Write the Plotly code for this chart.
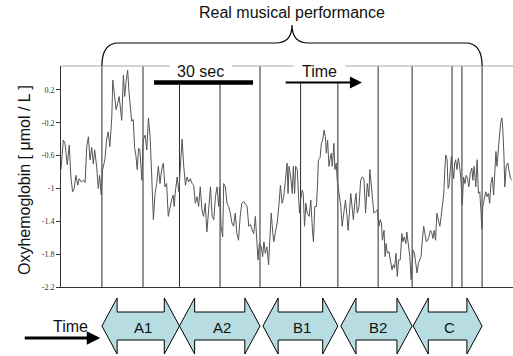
import plotly.graph_objects as go

# ---------------- data ----------------
time_s = [
    0.0, 0.7, 1.2, 1.9, 2.5, 3.0, 3.5, 4.0, 4.5, 5.1, 5.5, 6.1, 6.8, 7.3, 7.8, 8.3, 8.8, 9.3, 9.8, 10.2,
    10.8, 11.3, 11.7, 12.2, 12.6, 13.3, 13.8, 14.3, 14.8, 15.4, 15.7, 16.2, 16.7, 17.2, 17.6, 17.9, 18.4,
    18.9, 19.3, 19.7, 20.2, 20.6, 21.0, 21.4, 21.9, 22.3, 22.7, 23.1, 23.5, 23.9, 24.5, 24.9, 25.5, 26.0,
    26.5, 27.0, 27.5, 28.0, 28.5, 29.0, 29.5, 30.0, 30.5, 31.0, 31.5, 32.0, 32.5, 33.0, 33.5, 34.0, 34.3,
    34.6, 35.2, 35.7, 36.2, 36.7, 37.2, 37.7, 38.2, 38.7, 39.2, 39.7, 40.2, 40.7, 41.2, 41.7, 42.2, 42.7,
    43.2, 43.7, 44.2, 44.8, 45.3, 45.8, 46.3, 46.8, 47.3, 47.8, 48.1, 48.5, 49.0, 49.3, 49.8, 50.3, 50.8,
    51.3, 51.8, 52.3, 52.8, 53.3, 53.8, 54.3, 54.8, 55.4, 55.8, 56.4, 56.9, 57.4, 57.9, 58.4, 58.9, 59.4,
    59.7, 60.1, 60.7, 61.1, 61.5, 61.9, 62.4, 62.9, 63.4, 63.7, 64.2, 64.5, 64.9, 65.5, 66.0, 66.5, 67.0,
    67.5, 68.0, 68.5,
    68.8, 69.1, 69.6, 70.1, 70.4, 70.8, 71.1, 71.6, 72.0, 72.3, 72.6, 73.1, 73.4, 73.8, 74.2, 74.6, 75.2,
    75.7, 76.2, 76.5, 76.9, 77.4, 77.7, 78.0, 78.5, 78.9, 79.3, 79.7, 80.1, 80.4, 80.8, 81.2, 81.5, 81.9,
    82.2, 82.7, 83.0, 83.4, 83.7, 84.0, 84.5, 84.8, 85.2, 85.8, 86.2, 86.6, 87.0, 87.4, 87.8, 88.3, 88.6,
    89.0, 89.4, 89.8, 90.3, 90.8, 91.3, 91.8, 92.3, 92.8, 93.3, 93.6, 94.0, 94.5, 94.8, 95.4, 95.8, 96.4,
    96.7, 97.1, 97.4, 97.9, 98.2, 98.5, 98.9, 99.4, 99.9, 100.3, 100.7, 101.1, 101.5, 101.9, 102.3,
    102.8, 103.3, 103.6, 104.0, 104.5, 104.8, 105.2, 105.7, 106.1, 106.4, 106.7, 107.1, 107.5, 107.9,
    108.3, 108.7, 109.1, 109.5, 109.9, 110.3, 110.7, 111.1, 111.5, 111.9, 112.3, 112.7, 113.1, 113.5,
    113.9, 114.3, 114.8, 115.2, 115.5, 116.0, 116.3, 116.6, 117.0, 117.3, 117.6, 118.0, 118.3, 118.6,
    119.0, 119.3, 119.6, 120.0, 120.4, 120.8, 121.2, 121.6, 122.0, 122.4, 122.8, 123.2, 123.6, 124.0,
    124.5, 124.8, 125.2, 125.7, 126.1, 126.5, 126.9, 127.3, 127.5, 127.8, 128.3, 128.7, 129.1, 129.5,
    129.9, 130.3, 130.7, 131.1, 131.5, 131.8, 132.1, 132.4, 132.8, 133.2, 133.6, 133.9, 134.2, 134.5,
    134.9, 135.4, 135.8, 136.2, 136.7,
]
oxyhemoglobin = [
    -0.77, -0.41, -0.45, -0.71, -0.47, -0.86, -1.04, -1.00, -0.84, -0.96, -0.88, -0.92, -0.90, -0.93, -0.49,
    -0.37, -0.65, -0.50, -0.70, -0.53, -0.73, -1.00, -0.84, -1.08, -0.77, -0.65, -0.41, -0.31, -0.49, -0.13,
    0.32, 0.16, -0.04, 0.04, 0.12, 0.02, -0.17, 0.38, 0.12, 0.30, 0.44, 0.18, -0.04, -0.18, -0.16, -0.50,
    -0.60, -0.77, -0.51, -0.53, -0.90, -0.41, -0.35, -0.53, -0.14, -0.37, -0.86, -1.38, -1.06, -0.94,
    -0.73, -0.94, -0.77, -0.69, -0.98, -0.94, -1.34, -1.22, -1.14, -1.08, -1.22,
    -1.06, -0.86, -1.04, -0.65, -0.40, -0.73, -0.96, -0.86, -0.92, -0.88, -0.94, -0.96, -1.18, -1.10,
    -1.22, -0.98, -1.26, -1.34, -1.18, -1.53, -1.18, -0.98, -1.34, -1.38, -1.10, -0.98, -1.22, -0.98,
    -1.46, -1.59, -0.94, -0.98, -1.18, -1.22, -1.30, -1.42, -1.46, -1.30, -1.55, -1.63, -1.34, -1.18,
    -1.16, -1.18, -1.22, -1.46, -1.44, -1.50, -1.55, -1.34, -1.63, -1.87, -1.67, -1.71, -1.83, -1.65,
    -1.79, -1.71, -1.93, -1.46, -1.30, -1.55, -1.65, -1.55, -1.42, -1.22, -0.96, -1.18, -1.10, -0.90,
    -0.69,
    -1.06, -0.73, -0.86, -1.06, -0.73, -1.06, -0.73, -0.77, -1.10, -1.30, -1.14, -1.02, -1.06, -1.46,
    -1.18, -1.30, -1.34, -1.14, -1.51, -1.65, -1.22, -1.22, -0.98, -0.65, -0.63, -0.45, -0.41, -0.29,
    -0.37, -0.57, -0.41, -0.73, -0.65, -0.57, -0.73, -0.45, -0.77, -0.69, -0.90, -0.98, -1.14, -1.22,
    -1.46, -1.26, -1.14, -1.30, -1.51, -1.30, -1.06, -1.26, -1.38, -1.18, -1.06, -1.30, -1.22, -0.90,
    -0.86, -0.88, -1.30, -0.94, -1.10, -0.77, -0.98, -1.26, -1.30, -1.28, -1.26, -1.46, -1.38, -1.42,
    -1.63, -1.51, -1.83, -1.67, -1.79, -1.77, -1.91, -1.99, -1.93, -1.97, -1.79, -2.07, -1.87,
    -1.87, -1.55, -1.65, -1.59, -1.67, -1.53, -1.69, -1.83, -2.11, -1.87, -1.75, -1.79, -1.91, -2.03,
    -1.91, -1.87, -1.83, -1.63, -1.46, -1.55, -1.65, -1.63, -1.59, -1.51, -1.53, -1.61, -1.51, -1.63,
    -1.30, -1.38, -1.46, -1.34, -1.22, -1.06, -0.77, -0.59, -0.65, -1.00, -0.96, -0.77, -0.61, -0.73,
    -0.88, -0.69, -0.65, -0.77, -0.63, -0.73, -0.90, -1.20, -0.86, -0.94, -0.84, -0.88, -0.98, -0.82,
    -0.75, -0.90, -0.73, -0.98, -0.65, -1.06, -1.04, -1.30, -1.49, -1.22, -1.10, -1.04, -1.10, -1.06,
    -1.18, -0.94, -0.86, -1.08, -0.77, -0.55, -0.73, -0.57, -0.33, -0.21, -0.14, -0.29, -0.57, -0.98,
    -0.73, -0.69, -0.79, -0.88, -0.90,
]

event_times = [12.4, 24.85, 35.9, 48.2, 60.3, 72.6, 83.9, 96.1, 106.4, 118.5, 121.5, 127.6]

section_labels = ["A1", "A2", "B1", "B2", "C"]
section_start = [12.4, 35.9, 61.2, 84.8, 106.7]
section_end = [35.9, 60.3, 83.9, 106.4, 127.6]

y_tick_values = [0.2, -0.2, -0.6, -1, -1.4, -1.8, -2.2]
y_tick_labels = ["0.2", "-0.2", "-0.6", "-1", "-1.4", "-1.8", "-2.2"]

scale_bar = [28.2, 58.2]          # 30 seconds
time_arrow = [67.6, 91.2]
x_range = [0, 136.97]
y_range = [-2.2, 0.492]

# ---------------- layout helpers ----------------
W, H = 513, 356
ML, MR, MT, MB = 61, 0, 66, 69
PH = H - MT - MB


def py(pix):
    """pixel row -> paper y"""
    return (H - MB - pix) / PH


def px_paper(pix):
    return (pix - ML) / (W - ML - MR)


fig = go.Figure()
fig.add_trace(go.Scatter(x=time_s, y=oxyhemoglobin, mode="lines",
                         line=dict(color="#555555", width=1), hoverinfo="skip"))

sec_center = (scale_bar[0] + scale_bar[1]) / 2 - 0.8
time_center = 78.3
gaps = [(sec_center - 9.4, sec_center + 9.4), (time_center - 7.9, time_center + 7.9)]

shapes = []
# event markers (stop under the top labels)
for t in event_times:
    covered = any(g0 <= t <= g1 for g0, g1 in gaps)
    shapes.append(dict(type="line", xref="x", yref="paper", x0=t, x1=t, y0=0,
                       y1=py(82) if covered else 1,
                       line=dict(color="#2b2b2b", width=1), layer="below"))
# top frame line, interrupted by the labels
edges = [x_range[0]] + [v for g in gaps for v in g] + [x_range[1]]
for a, b in zip(edges[0::2], edges[1::2]):
    shapes.append(dict(type="line", xref="x", yref="paper", x0=a, x1=b, y0=1, y1=1,
                       line=dict(color="#a8a8a8", width=1), layer="below"))
# 30 sec bar
shapes.append(dict(type="line", xref="x", yref="paper", x0=scale_bar[0], x1=scale_bar[1],
                   y0=py(82.5), y1=py(82.5), line=dict(color="black", width=4.5), layer="above"))

# brace over the performance
b0, b1 = event_times[0], event_times[-1]
bm = (b0 + b1) / 2
r = 5.0
yb0, yh, yp = 1.0, py(43), py(25)
brace = (f"M {b0},{yb0} Q {b0},{yh} {b0 + r},{yh} L {bm - r},{yh} Q {bm},{yh} {bm},{yp} "
         f"Q {bm},{yh} {bm + r},{yh} L {b1 - r},{yh} Q {b1},{yh} {b1},{yb0}")
shapes.append(dict(type="path", xref="x", yref="paper", path=brace,
                   line=dict(color="black", width=1.2), layer="above"))

# section double arrows
head = 4.6
ht, bt, ym, bb, hb = py(298), py(312), py(326), py(340), py(354)
for s, e in zip(section_start, section_end):
    p = (f"M {s},{ym} L {s + head},{ht} L {s + head},{bt} L {e - head},{bt} L {e - head},{ht} "
         f"L {e},{ym} L {e - head},{hb} L {e - head},{bb} L {s + head},{bb} L {s + head},{hb} Z")
    shapes.append(dict(type="path", xref="x", yref="paper", path=p, fillcolor="#b7dde2",
                       line=dict(color="black", width=1), layer="above"))

annotations = []
font_sans = "Liberation Sans, Arial, sans-serif"


def label(text, x, y, xref="x", size=16, **kw):
    annotations.append(dict(text=text, xref=xref, yref="paper", x=x, y=y, xanchor="center",
                            yanchor="middle", showarrow=False,
                            font=dict(family=font_sans, size=size, color="#111"), **kw))


label("Real musical performance", bm, py(13))
label("30 sec", sec_center, py(71))
label("Time", time_center, py(71))
annotations.append(dict(text="", xref="x", yref="paper", x=time_arrow[1], y=py(82.5),
                        axref="x", ax=time_arrow[0], ayref="pixel", ay=0, showarrow=True,
                        arrowhead=2, arrowsize=1.2, arrowwidth=2, arrowcolor="black"))
for lab, s, e in zip(section_labels, section_start, section_end):
    label(lab, (s + e) / 2 + 0.6, py(327), size=15)
label("Time", px_paper(70), py(326), xref="paper")
annotations.append(dict(text="", xref="x", yref="paper", x=section_start[0] - 0.5, y=py(338),
                        axref="pixel", ax=-77, ayref="pixel", ay=0, showarrow=True,
                        arrowhead=2, arrowsize=0.9, arrowwidth=3, arrowcolor="black"))
label("Oxyhemoglobin [ \u03bcmol / L ]", px_paper(24), py(180), xref="paper", textangle=-90)

fig.update_layout(
    width=W, height=H,
    margin=dict(l=ML, r=MR, t=MT, b=MB, pad=0),
    paper_bgcolor="white", plot_bgcolor="white",
    showlegend=False, hovermode=False,
    shapes=shapes, annotations=annotations,
    xaxis=dict(range=x_range, showgrid=False, zeroline=False, showticklabels=False,
               ticks="", showline=True, linecolor="#333333", linewidth=1),
    yaxis=dict(range=y_range, showgrid=False, zeroline=False, tickmode="array",
               tickvals=y_tick_values, ticktext=y_tick_labels, ticks="outside", ticklen=4,
               tickcolor="#333333", showline=True, linecolor="#333333", linewidth=1,
               tickfont=dict(family="Liberation Serif, Times New Roman, serif", size=8,
                             color="#333333")),
)

fig.write_html("out.html", config={"displayModeBar": False})
